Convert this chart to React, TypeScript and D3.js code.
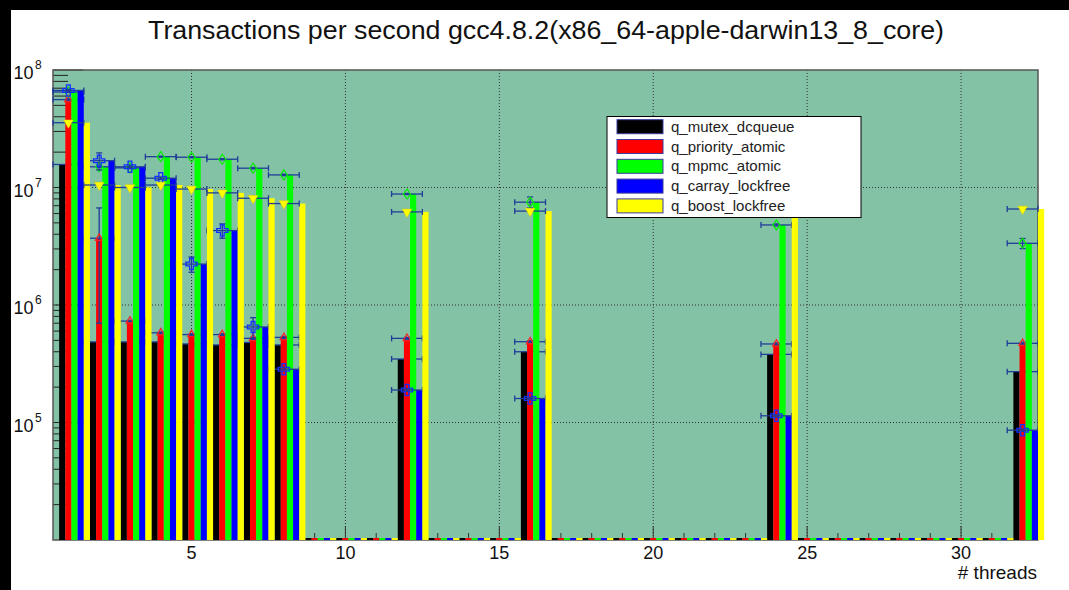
import * as React from 'react'
import * as d3 from 'd3'

// bins that were measured (# threads)
const threads = [1, 2, 3, 4, 5, 6, 7, 8, 12, 16, 24, 32];

const seriesNames = ['q_mutex_dcqueue', 'q_priority_atomic', 'q_mpmc_atomic', 'q_carray_lockfree', 'q_boost_lockfree'];
const seriesColors = ['#000000', '#ff0000', '#00ff00', '#0000ff', '#ffff00'];

// transactions per second
const mutexVals = [1.57e7, 4.85e5, 4.85e5, 4.85e5, 4.66e5, 4.57e5, 4.8e5, 4.57e5, 3.47e5, 4.0e5, 3.8e5, 2.71e5];
const priorityVals = [5.6e7, 3.7e6, 7.3e5, 5.8e5, 5.6e5, 5.6e5, 5.2e5, 5.3e5, 5.2e5, 4.87e5, 4.66e5, 4.72e5];
const mpmcVals = [6.5e7, 1.5e7, 1.47e7, 1.83e7, 1.81e7, 1.74e7, 1.46e7, 1.28e7, 8.8e6, 7.5e6, 4.8e6, 3.35e6];
const carrayVals = [6.7e7, 1.69e7, 1.5e7, 1.2e7, 2.23e6, 4.3e6, 6.5e5, 2.84e5, 1.89e5, 1.6e5, 1.14e5, 8.6e4];
const boostVals = [3.56e7, 1.05e7, 1.0e7, 1.05e7, 9.7e6, 9.0e6, 8.1e6, 7.3e6, 6.2e6, 6.3e6, 6.6e6, 6.56e6];

// errors
const mutexErr = [2e5, 5e3, 5e3, 5e3, 5e3, 5e3, 5e3, 5e3, 4e3, 4e3, 4e3, 3e3];
const priorityErr = [1.5e6, 3.0e6, 1e4, 1e4, 1e4, 1e4, 1e4, 1e4, 1e4, 1e4, 1e4, 1e4];
const mpmcErr = [5e5, 2e5, 2e5, 2e5, 2e5, 2e5, 2e5, 2e5, 1e5, 8e5, 1e5, 3.3e5];
const carrayErr = [1.5e6, 2.8e6, 5e5, 3e5, 3.3e5, 6e5, 1.3e5, 1e4, 5e3, 4e3, 3e3, 2e3];
const boostErr = [3e5, 1e5, 1e5, 1e5, 1e5, 1e5, 1e5, 1e5, 6e4, 6e4, 6e4, 6e4];

const allVals = [mutexVals, priorityVals, mpmcVals, carrayVals, boostVals];
const allErr = [mutexErr, priorityErr, mpmcErr, carrayErr, boostErr];

const W = 1069, H = 590;
const fl = 53, fr = 1038, ft = 70, fb = 540;
const errColor = '#1f3d99';
const font = '"Liberation Sans", Arial, Helvetica, sans-serif';

const Marker = ({ i, cx, cy }) => {
  if (i === 1) {
    return <path d={d3.symbol(d3.symbolTriangle2, 40)()} transform={`translate(${cx},${cy})`} fill="none" stroke="#ff2020" strokeWidth={1.2} />
  }
  if (i === 2) {
    return <path d={`M0,-5L3.5,0L0,5L-3.5,0Z`} transform={`translate(${cx},${cy})`} fill="none" stroke="#00ee00" strokeWidth={1.2} />
  }
  if (i === 3) {
    return <path d={d3.symbol(d3.symbolCross, 70)()} transform={`translate(${cx},${cy})`} fill="none" stroke="#1030ff" strokeWidth={1.3} />
  }
  if (i === 4) {
    return <path d={d3.symbol(d3.symbolTriangle, 40)()} transform={`translate(${cx},${cy}) rotate(180)`} fill="#ffff00" stroke="#e0d000" strokeWidth={0.5} />
  }
  return null;
}

const App = () => {
  const x = d3.scaleLinear().domain([0.5, 32.5]).range([fl, fr]);
  const y = d3.scaleLog().domain([1e4, 1e8]).range([fb, ft]);

  const decades = [1e5, 1e6, 1e7, 1e8];
  const minors = [];
  [1e4, 1e5, 1e6, 1e7].forEach(d => { for (let k = 2; k <= 9; k++) minors.push(d * k) });
  const xMajor = [5, 10, 15, 20, 25, 30];
  const xMinor = d3.range(1, 33);
  const emptyBins = d3.range(1, 33).filter(t => !threads.includes(t));
  const bw = 0.2;

  return (
    <div style={{ position: 'absolute', left: 0, top: 0 }}>
      <svg width={W} height={H} style={{ display: 'block' }}>
        <rect x={0} y={0} width={W} height={H} fill="#000" />
        <rect x={11} y={10} width={W - 11} height={H - 10} fill="#fff" />

        <text x={546} y={39} textAnchor="middle" fontFamily={font} fontSize={25} fill="#111"
          textLength={796} lengthAdjust="spacingAndGlyphs">
          Transactions per second gcc4.8.2(x86_64-apple-darwin13_8_core)
        </text>

        {/* frame */}
        <rect x={fl} y={ft} width={fr - fl} height={fb - ft} fill="#84c2a5" />

        {/* grid */}
        {xMajor.map(t => (
          <line key={'gx' + t} x1={x(t)} x2={x(t)} y1={ft} y2={fb} stroke="#333" strokeDasharray="1,2" strokeWidth={1} />
        ))}
        {[1e5, 1e6, 1e7].map(v => (
          <line key={'gy' + v} x1={fl} x2={fr} y1={y(v)} y2={y(v)} stroke="#333" strokeDasharray="1,2" strokeWidth={1} />
        ))}

        {/* ticks */}
        {decades.map(v => (
          <line key={'ty' + v} x1={fl} x2={fl + 30} y1={y(v)} y2={y(v)} stroke="#222" strokeWidth={1} />
        ))}
        {minors.map(v => (
          <line key={'tmy' + v} x1={fl} x2={fl + 15} y1={y(v)} y2={y(v)} stroke="#222" strokeWidth={1} />
        ))}
        {xMinor.map(t => (
          <line key={'tmx' + t} x1={x(t)} x2={x(t)} y1={fb} y2={fb - (t % 5 === 0 ? 14 : 7)} stroke="#333" strokeWidth={1} />
        ))}

        <rect x={fl} y={ft} width={fr - fl} height={fb - ft} fill="none" stroke="#555" strokeWidth={1.5} />

        {/* series, drawn one after the other */}
        {allVals.map((vals, i) => (
          <g key={'s' + i}>
            {emptyBins.map(t => (
              <rect key={'e' + t} x={x(t - 0.3 + bw * i)} width={x(t - 0.1 + bw * i) - x(t - 0.3 + bw * i)}
                y={fb - 2} height={2} fill={seriesColors[i]} />
            ))}
            {vals.map((v, j) => {
              const t = threads[j];
              const x0 = x(t - 0.3 + bw * i), x1 = x(t - 0.1 + bw * i);
              return <rect key={'b' + j} x={x0} width={x1 - x0} y={y(v)} height={fb - y(v)} fill={seriesColors[i]} />
            })}
            {vals.map((v, j) => {
              const t = threads[j];
              const e = allErr[i][j];
              const cx = x(t), cy = y(v);
              const xa = x(t - 0.5), xb = x(t + 0.5);
              const ya = y(v + e), yb = y(Math.max(v - e, 1e4));
              return (
                <g key={'err' + j}>
                  <line x1={xa} x2={xb} y1={cy} y2={cy} stroke={errColor} strokeWidth={1.3} />
                  <line x1={xa} x2={xa} y1={cy - 3} y2={cy + 3} stroke={errColor} strokeWidth={1.3} />
                  <line x1={xb} x2={xb} y1={cy - 3} y2={cy + 3} stroke={errColor} strokeWidth={1.3} />
                  <line x1={cx} x2={cx} y1={ya} y2={yb} stroke={errColor} strokeWidth={1.3} />
                  <line x1={cx - 3} x2={cx + 3} y1={ya} y2={ya} stroke={errColor} strokeWidth={1.3} />
                  <line x1={cx - 3} x2={cx + 3} y1={yb} y2={yb} stroke={errColor} strokeWidth={1.3} />
                  <Marker i={i} cx={cx} cy={cy} />
                </g>
              )
            })}
          </g>
        ))}

        {/* axis labels */}
        {decades.map(v => {
          const k = Math.round(Math.log10(v));
          return (
            <g key={'ly' + v} fontFamily={font} fill="#111">
              <text x={33.5} y={y(v) + 9} textAnchor="end" fontSize={18}>10</text>
              <text x={35} y={y(v) - 1} fontSize={12}>{k}</text>
            </g>
          )
        })}
        {xMajor.map(t => (
          <text key={'lx' + t} x={x(t)} y={559} textAnchor="middle" fontFamily={font} fontSize={18} fill="#111">{t}</text>
        ))}
        <text x={1037} y={579} textAnchor="end" fontFamily={font} fontSize={19} fill="#111"># threads</text>

        {/* legend */}
        <rect x={607} y={116.5} width={254} height={101} fill="#fff" stroke="#000" strokeWidth={1} />
        {seriesNames.map((name, i) => {
          const cy = 126.7 + 19.8 * i;
          return (
            <g key={'lg' + i}>
              <rect x={617} y={cy - 7} width={46} height={14} fill={seriesColors[i]} stroke="#3a3aa0" strokeWidth={1} />
              <text x={671} y={cy + 5} fontFamily={font} fontSize={15} fill="#222">{name}</text>
            </g>
          )
        })}
      </svg>
    </div>
  )
}

export default App;
